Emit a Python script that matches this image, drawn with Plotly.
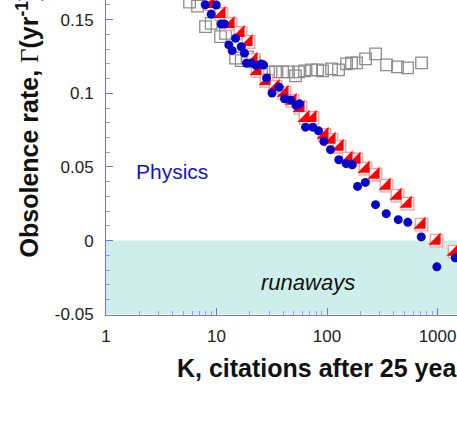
import plotly.graph_objects as go

# K (citations after 25 years) and obsolescence rate Gamma (1/yr)
gray_k = [5.70, 6.73, 7.95, 8.95, 10.87, 12.06, 14.86, 16.73, 19.08, 22.07,
          25.54, 29.55, 34.19, 39.57, 44.83, 51.87, 55.23, 62.57, 72.40, 82.04,
          91.05, 109.8, 127.1, 150.2, 166.6, 184.9, 223.1, 274.8, 345.6, 434.5,
          535.2, 716.4]
gray_g = [0.1619, 0.1592, 0.1452, 0.1475, 0.1384, 0.1407, 0.1238, 0.1222, 0.1247, 0.1213,
          0.1159, 0.1145, 0.1145, 0.1145, 0.1145, 0.1118, 0.1145, 0.1152, 0.1159, 0.1159,
          0.1152, 0.1165, 0.1159, 0.1199, 0.1206, 0.1206, 0.1233, 0.1267, 0.1192, 0.1179,
          0.1172, 0.1206]

red_k = [8.83, 11.10, 13.39, 16.49, 19.49, 21.62, 23.50, 28.35, 34.19, 41.25,
         48.73, 57.57, 63.89, 73.92, 94.93, 109.8, 129.8, 156.5, 184.9, 223.1,
         274.8, 345.6, 434.5, 535.2, 716.4, 979.5, 1425]
red_g = [0.1606, 0.1538, 0.1470, 0.1409, 0.1348, 0.1226, 0.1152, 0.1084, 0.1043, 0.1003,
         0.0949, 0.0901, 0.0833, 0.0833, 0.0718, 0.0684, 0.0637, 0.0556, 0.0549, 0.0488,
         0.0447, 0.0373, 0.0305, 0.0251, 0.0108, 0.0000, -0.0075]

blue_k = [7.90, 9.94, 8.95, 11.03, 11.81, 14.86, 12.92, 13.87, 16.73, 17.92,
          18.68, 20.61, 22.78, 25.38, 26.63, 28.35, 31.78, 36.93, 41.25, 46.72,
          52.42, 56.37, 63.89, 74.38, 83.78, 93.55, 107.6, 127.9, 149.2, 169.1,
          188.8, 222.2, 274.8, 343.4, 441.0, 538.5, 712.0, 985.6, 1446]
blue_g = [0.1601, 0.1599, 0.1536, 0.1470, 0.1470, 0.1373, 0.1328, 0.1289, 0.1316, 0.1272,
          0.1204, 0.1206, 0.1189, 0.1199, 0.1192, 0.1104, 0.1001, 0.1041, 0.0962, 0.0955,
          0.0918, 0.0928, 0.0770, 0.0770, 0.0745, 0.0673, 0.0617, 0.0549, 0.0522, 0.0515,
          0.0368, 0.0395, 0.0244, 0.0183, 0.0142, 0.0124, 0.0025, -0.0178, -0.0117]

x_ticks = [1, 10, 100, 1000]
y_ticks = [0.15, 0.1, 0.05, 0, -0.05]
y_labels = ['0.15', '0.1', '0.05', '0', '-0.05']

FONT = 'Liberation Sans, Arial, sans-serif'
AXIS = '#7474ea'

fig = go.Figure()

# runaways band (negative rates)
fig.add_shape(type='rect', xref='paper', yref='y', x0=0, x1=1, y0=-0.05, y1=0,
              fillcolor='#cdeeea', line_width=0, layer='below')

fig.add_trace(go.Scatter(
    x=gray_k, y=gray_g, mode='markers', showlegend=False,
    marker=dict(symbol='square-open', size=11.5, color='#8c8c8c', line=dict(width=1.3)),
))
fig.add_trace(go.Scatter(
    x=red_k, y=red_g, mode='markers', showlegend=False,
    marker=dict(symbol='square', size=12.5, color='white', line=dict(color='#ff9a9a', width=1.3)),
))
fig.add_trace(go.Scatter(
    x=red_k, y=red_g, mode='markers', showlegend=False,
    marker=dict(symbol='triangle-se', size=13.5, color='#ff0000', line=dict(width=0)),
))
fig.add_trace(go.Scatter(
    x=blue_k, y=blue_g, mode='markers', showlegend=False,
    marker=dict(symbol='circle', size=9, color='#0505cc', line=dict(width=0)),
))

minor_x = [m * 10 ** d for d in range(4) for m in range(2, 10)]

fig.update_xaxes(
    type='log', range=[0, 3.176],
    tickvals=x_ticks, ticktext=[str(v) for v in x_ticks],
    ticks='inside', ticklen=7, tickcolor=AXIS,
    minor=dict(tickvals=minor_x, ticks='inside', ticklen=4, tickcolor='#9a9af0', showgrid=False),
    showline=True, linecolor=AXIS, linewidth=1,
    showgrid=False, zeroline=False,
    tickfont=dict(size=17, color='#222', family=FONT),
    ticklabelstandoff=6,
)
fig.update_yaxes(
    range=[-0.0505, 0.1633],
    tickvals=y_ticks, ticktext=y_labels,
    ticks='inside', ticklen=7, tickcolor=AXIS,
    minor=dict(dtick=0.01, ticks='inside', ticklen=4, tickcolor='#9a9af0', showgrid=False),
    showline=True, linecolor=AXIS, linewidth=1,
    showgrid=False, zeroline=False,
    tickfont=dict(size=17, color='#222', family=FONT),
    ticklabelstandoff=8,
)

fig.add_annotation(text='Physics', xref='paper', yref='paper', x=0.188, y=0.457,
                   xanchor='center', yanchor='middle',
                   showarrow=False, font=dict(size=21, color='#1414c8', family=FONT))
fig.add_annotation(text='<i>runaways</i>', xref='paper', yref='paper', x=0.575, y=0.102,
                   xanchor='center', yanchor='middle',
                   showarrow=False, font=dict(size=22, color='#111', family=FONT))
fig.add_annotation(text='<b>K, citations after 25 years</b>', xref='paper', yref='paper',
                   x=0.197, y=-0.168, xanchor='left', yanchor='middle',
                   showarrow=False, font=dict(size=25, color='#111', family=FONT))
fig.add_annotation(
    text='<b>Obsolence rate, </b><span style="font-family:Liberation Serif">Γ</span><b>(yr<sup>-1</sup>)</b>',
    xref='paper', yref='paper', x=-0.222, y=0.175, xanchor='center', yanchor='bottom',
    textangle=-90, showarrow=False, font=dict(size=25, color='#111', family=FONT))

fig.update_layout(
    width=457, height=429, autosize=False,
    margin=dict(l=106, r=0, t=0, b=114),
    plot_bgcolor='white', paper_bgcolor='white',
    font=dict(family=FONT),
)

fig.write_html("out.html", config={'displayModeBar': False},
               post_script="document.body.style.margin='0';")
